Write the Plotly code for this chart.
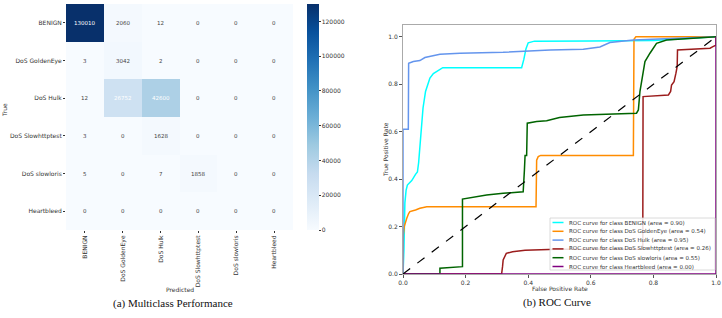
import plotly.graph_objects as go

# ---------------- data ----------------
classes = ["BENIGN", "DoS GoldenEye", "DoS Hulk", "DoS Slowhttptest", "DoS slowloris", "Heartbleed"]
cm_benign = [130010, 2060, 12, 0, 0, 0]
cm_goldeneye = [3, 3042, 2, 0, 0, 0]
cm_hulk = [12, 26752, 42600, 0, 0, 0]
cm_slowhttptest = [3, 0, 1628, 0, 0, 0]
cm_slowloris = [5, 0, 7, 1858, 0, 0]
cm_heartbleed = [0, 0, 0, 0, 0, 0]
cb_ticks = [0, 20000, 40000, 60000, 80000, 100000, 120000]

roc_auc = [0.90, 0.54, 0.95, 0.26, 0.55, 0.00]
roc_colors = ["#00FFFF", "#FF8C00", "#6495ED", "#9B1C1C", "#006400", "#800080"]

fpr_benign = [0, 0.003, 0.006, 0.010, 0.014, 0.028, 0.040, 0.046, 0.050, 0.056, 0.064, 0.072, 0.081, 0.086, 0.097, 0.108, 0.127, 0.25, 0.379, 0.386, 0.393, 0.400, 0.42, 0.6, 0.8, 1.0]
tpr_benign = [0, 0.10, 0.30, 0.354, 0.375, 0.394, 0.42, 0.43, 0.47, 0.58, 0.70, 0.77, 0.805, 0.826, 0.845, 0.854, 0.870, 0.870, 0.870, 0.905, 0.950, 0.975, 0.982, 0.983, 0.985, 1.0]

fpr_goldeneye = [0, 0.001, 0.004, 0.008, 0.012, 0.018, 0.022, 0.040, 0.054, 0.076, 0.2, 0.425, 0.427, 0.432, 0.440, 0.6, 0.736, 0.738, 0.744, 0.8, 1.0]
tpr_goldeneye = [0, 0.165, 0.200, 0.225, 0.235, 0.255, 0.263, 0.270, 0.277, 0.284, 0.284, 0.284, 0.480, 0.495, 0.500, 0.500, 0.500, 0.990, 1.0, 1.0, 1.0]

fpr_hulk = [0, 0, 0.017, 0.018, 0.033, 0.054, 0.070, 0.118, 0.182, 0.320, 0.470, 0.576, 0.629, 0.661, 0.736, 1.0]
tpr_hulk = [0, 0.610, 0.610, 0.889, 0.896, 0.900, 0.913, 0.927, 0.931, 0.935, 0.945, 0.948, 0.957, 0.976, 0.987, 1.0]

fpr_slowhttptest = [0, 0.315, 0.318, 0.320, 0.330, 0.350, 0.390, 0.490, 0.766, 0.767, 0.848, 0.855, 0.858, 0.866, 0.872, 0.876, 0.877, 0.981, 0.990, 1.0, 1.0]
tpr_slowhttptest = [0, 0, 0.031, 0.059, 0.087, 0.094, 0.100, 0.104, 0.104, 0.748, 0.755, 0.770, 0.797, 0.811, 0.847, 0.875, 0.945, 0.952, 0.959, 0.965, 1.0]

fpr_slowloris = [0, 0.118, 0.118, 0.187, 0.190, 0.190, 0.214, 0.267, 0.320, 0.384, 0.388, 0.390, 0.395, 0.397, 0.427, 0.459, 0.500, 0.576, 0.746, 0.752, 0.757, 0.773, 0.789, 0.810, 0.842, 1.0]
tpr_slowloris = [0, 0, 0.024, 0.031, 0.031, 0.316, 0.322, 0.333, 0.340, 0.347, 0.440, 0.500, 0.500, 0.636, 0.643, 0.646, 0.660, 0.671, 0.678, 0.692, 0.769, 0.896, 0.931, 0.973, 0.987, 1.0]

fpr_heartbleed = [0, 1.0, 1.0]
tpr_heartbleed = [0, 0, 1.0]

# ---------------- helpers ----------------
W, H = 722, 318
def px(x):
    return x / W
def py(y):
    return 1 - y / H

cm = [cm_benign, cm_goldeneye, cm_hulk, cm_slowhttptest, cm_slowloris, cm_heartbleed]
blues = [[0.0, "#f7fbff"], [0.125, "#deebf7"], [0.25, "#c6dbef"], [0.375, "#9ecae1"],
         [0.5, "#6baed6"], [0.625, "#4292c6"], [0.75, "#2171b5"], [0.875, "#08519c"], [1.0, "#08306b"]]
zmax = max(max(r) for r in cm)

SANS = "DejaVu Sans"
SERIF = "Liberation Serif"
TXT = "#333333"

fig = go.Figure()

fig.add_trace(go.Heatmap(
    z=cm, x=classes, y=classes, colorscale=blues, zmin=0, zmax=zmax,
    xaxis="x", yaxis="y", hoverinfo="skip",
    colorbar=dict(x=px(307), xanchor="left", y=py(4), yanchor="top",
                  len=226, lenmode="pixels", thickness=12, thicknessmode="pixels",
                  outlinewidth=0, ticks="outside", ticklen=2, tickcolor=TXT,
                  tickvals=cb_ticks, tickformat="d", xpad=0, ypad=0,
                  tickfont=dict(family=SANS, size=6, color=TXT)),
))

annotations = []
for i, row in enumerate(cm):
    for j, v in enumerate(row):
        annotations.append(dict(x=classes[j], y=classes[i], xref="x", yref="y",
                                text=str(v), showarrow=False,
                                xanchor="center", yanchor="middle",
                                font=dict(family=SANS, size=5.5,
                                          color="white" if v > 20000 else "#444")))

names = classes
fprs = [fpr_benign, fpr_goldeneye, fpr_hulk, fpr_slowhttptest, fpr_slowloris, fpr_heartbleed]
tprs = [tpr_benign, tpr_goldeneye, tpr_hulk, tpr_slowhttptest, tpr_slowloris, tpr_heartbleed]
for n, f, t, c, a in zip(names, fprs, tprs, roc_colors, roc_auc):
    fig.add_trace(go.Scatter(x=f, y=t, mode="lines", line=dict(color=c, width=1.5),
                             xaxis="x2", yaxis="y2", showlegend=False,
                             name=f"ROC curve for class {n} (area = {a:.2f})"))
fig.add_trace(go.Scatter(x=[0, 1], y=[0, 1], mode="lines",
                         line=dict(color="black", width=1.2, dash="dash"),
                         xaxis="x2", yaxis="y2", showlegend=False))

# custom legend (lower right)
shapes = [dict(type="rect", xref="paper", yref="paper", x0=px(550), x1=px(715),
               y0=py(270), y1=py(218), fillcolor="rgba(255,255,255,0.85)",
               line=dict(color="#d0d0d0", width=0.8), layer="above")]
for k, (n, c, a) in enumerate(zip(names, roc_colors, roc_auc)):
    yy = 222.5 + k * 8.8
    shapes.append(dict(type="line", xref="paper", yref="paper", x0=px(552.5), x1=px(563.5),
                       y0=py(yy), y1=py(yy), line=dict(color=c, width=1.5), layer="above"))
    annotations.append(dict(x=px(567), y=py(yy), xref="paper", yref="paper",
                            xanchor="left", yanchor="middle", showarrow=False,
                            text=f"ROC curve for class {n} (area = {a:.2f})",
                            font=dict(family=SANS, size=5.5, color=TXT)))

# axis titles and captions
def lab(x, y, text, size=6, family=SANS, color=TXT, angle=0):
    return dict(x=px(x), y=py(y), xref="paper", yref="paper", text=text, textangle=angle,
                xanchor="center", yanchor="middle", showarrow=False,
                font=dict(family=family, size=size, color=color))

annotations += [
    lab(5, 110, "True", angle=-90),
    lab(180, 289, "Predicted"),
    lab(560, 288, "False Positive Rate"),
    lab(385, 150, "True Positive Rate", angle=-90),
    lab(173, 303, "(a) Multiclass Performance", size=11, family=SERIF, color="#111"),
    lab(557, 302, "(b) ROC Curve", size=11, family=SERIF, color="#111"),
]

common = dict(automargin=False, showgrid=False, zeroline=False, ticklabeloverflow="allow",
              tickfont=dict(family=SANS, size=6, color=TXT))

fig.update_layout(
    width=W, height=H, margin=dict(l=0, r=0, t=0, b=0, autoexpand=False),
    paper_bgcolor="white", plot_bgcolor="white", showlegend=False,
    xaxis=dict(domain=[px(66), px(293)], anchor="y", tickangle=-90, ticks="outside", ticklen=2,
               tickcolor=TXT, showline=False, **common),
    yaxis=dict(domain=[py(230), py(4)], anchor="x", autorange="reversed", ticks="outside", ticklen=2,
               tickcolor=TXT, showline=False, **common),
    xaxis2=dict(domain=[px(403), px(716)], anchor="y2", range=[0, 1],
                tickvals=[0, 0.2, 0.4, 0.6, 0.8, 1.0], tickformat=".1f",
                ticks="outside", ticklen=3, tickcolor="#555",
                showline=True, mirror=True, linecolor="#aaaaaa", linewidth=1, **common),
    yaxis2=dict(domain=[py(274), py(25)], anchor="x2", range=[0, 1.05],
                tickvals=[0, 0.2, 0.4, 0.6, 0.8, 1.0], tickformat=".1f",
                ticks="outside", ticklen=3, tickcolor="#555",
                showline=True, mirror=True, linecolor="#aaaaaa", linewidth=1, **common),
    shapes=shapes, annotations=annotations,
)

fig.write_html("out.html", config={"displayModeBar": False},
               post_script="document.body.style.margin='0';")
